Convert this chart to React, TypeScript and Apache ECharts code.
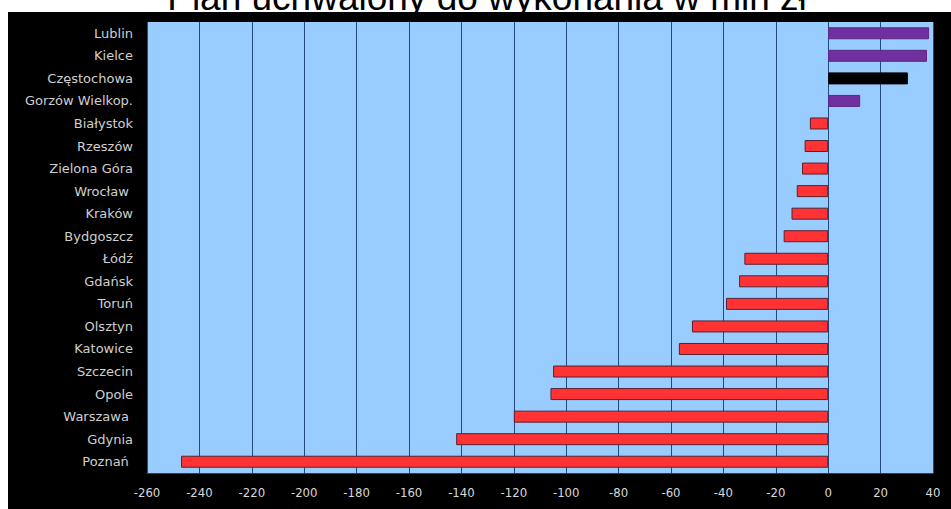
import React, { useEffect, useRef } from "react";
import * as echarts from "echarts";

const titleText = "Plan uchwalony do wykonania w mln zł";

const categories = [
  "Lublin",
  "Kielce",
  "Częstochowa",
  "Gorzów Wielkop.",
  "Białystok",
  "Rzeszów",
  "Zielona Góra",
  "Wrocław ",
  "Kraków",
  "Bydgoszcz",
  "Łódź",
  "Gdańsk",
  "Toruń",
  "Olsztyn",
  "Katowice",
  "Szczecin",
  "Opole",
  "Warszawa ",
  "Gdynia",
  "Poznań ",
];

const values = [
  38.5, 37.7, 30.4, 12.2, -7, -9, -10, -12, -14, -17, -32, -34, -39, -52, -57,
  -105, -106, -120, -142, -247,
];

const highlighted = "Częstochowa";

const axisMin = -260;
const axisMax = 40;
const axisStep = 20;

export default function App() {
  const ref = useRef<HTMLDivElement>(null);

  useEffect(() => {
    if (!ref.current) return;
    const chart = echarts.init(ref.current, undefined, { renderer: "svg" });

    const data = values.map((v, i) => {
      const name = categories[i];
      let color = v >= 0 ? "#70309f" : "#ff3333";
      let border = v >= 0 ? "#5e2788" : "#5a2030";
      if (name === highlighted) {
        color = "#000000";
        border = "#000000";
      }
      return {
        value: v,
        itemStyle: { color, borderColor: border, borderWidth: 1 },
      };
    });

    chart.setOption({
      animation: false,
      backgroundColor: "#000000",
      grid: {
        left: 147,
        right: 18,
        top: 22,
        bottom: 36,
        show: true,
        backgroundColor: "#99ccff",
        borderWidth: 0,
      },
      xAxis: {
        type: "value",
        min: axisMin,
        max: axisMax,
        interval: axisStep,
        axisLine: { show: true, lineStyle: { color: "#2a3f66", width: 1 } },
        axisTick: { show: false },
        splitLine: { show: true, lineStyle: { color: "#234a7d", width: 1 } },
        axisLabel: {
          color: "#d8d8d8",
          fontFamily: "'Liberation Sans Narrow', 'DejaVu Sans Condensed', sans-serif",
          fontSize: 13,
          margin: 13,
        },
      },
      yAxis: {
        type: "category",
        data: categories,
        inverse: true,
        axisLine: { show: false },
        axisTick: { show: false },
        splitLine: { show: false },
        axisLabel: {
          color: "#cfcfcf",
          fontFamily: "'DejaVu Sans', sans-serif",
          fontSize: 13,
          margin: 14,
        },
      },
      series: [
        {
          type: "bar",
          data,
          barWidth: 12,
        },
      ],
      graphic: [
        {
          type: "rect",
          z: 100,
          shape: { x: 0, y: 0, width: 951, height: 12 },
          style: { fill: "#ffffff" },
        },
        {
          type: "rect",
          z: 100,
          shape: { x: 0, y: 0, width: 8, height: 509 },
          style: { fill: "#ffffff" },
        },
        {
          type: "text",
          z: 101,
          x: 487,
          y: -3,
          style: {
            text: titleText,
            fill: "#000000",
            fontSize: 37,
            fontFamily: "'Liberation Sans', Arial, sans-serif",
            align: "center",
            verticalAlign: "middle",
          },
        },
        {
          type: "rect",
          z: 102,
          shape: { x: 8, y: 12, width: 943, height: 9 },
          style: { fill: "#000000" },
        },
      ],
    });

    return () => chart.dispose();
  }, []);

  return (
    <div
      ref={ref}
      style={{ position: "absolute", left: 0, top: 0, width: 951, height: 509 }}
    />
  );
}
